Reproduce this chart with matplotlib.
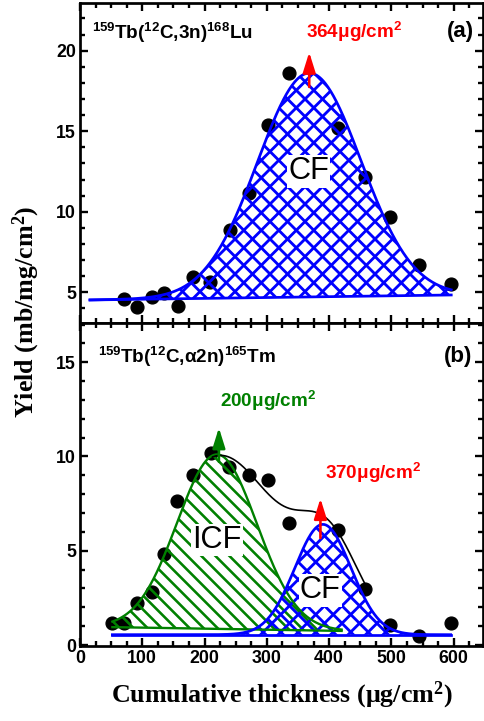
import numpy as np
import matplotlib
matplotlib.use("Agg")
import matplotlib.pyplot as plt
from matplotlib.ticker import MultipleLocator
from matplotlib.collections import LineCollection
from matplotlib.transforms import IdentityTransform

plt.rcParams['font.family'] = ['Liberation Sans', 'DejaVu Sans']
plt.rcParams['font.weight'] = 'bold'
plt.rcParams['mathtext.default'] = 'regular'

# ---- data ----
# (a) 159Tb(12C,3n)168Lu
thick_a = [71, 92, 115, 135, 158, 182, 209, 241, 271, 302, 335, 415, 457, 497, 545, 595]
yield_a = [4.58, 4.10, 4.69, 4.94, 4.17, 5.93, 5.66, 8.87, 11.19, 15.39, 18.60,
           15.19, 12.14, 9.66, 6.70, 5.50]
# CF gaussian fit: range, baseline (start, end), amplitude, centre, sigma
cf_a_range = (16, 596)
cf_a_base = (4.52, 4.83)
cf_a_amp, cf_a_c, cf_a_s = 13.9, 368, 83

# (b) 159Tb(12C,a2n)165Tm
thick_b = [52, 71, 92, 115, 135, 156, 182, 210, 239, 271, 302, 335, 415, 457, 498, 545, 595]
yield_b = [1.15, 1.15, 2.24, 2.83, 4.82, 7.65, 9.00, 10.16, 9.45, 9.00, 8.74, 6.48,
           6.09, 2.95, 1.06, 0.48, 1.15]
icf_range = (52, 420)
icf_base = (0.95, 0.75)
icf_amp, icf_c, icf_s = 9.25, 220, 64
cf_b_range = (52, 595)
cf_b_base = (0.55, 0.55)
cf_b_amp, cf_b_c, cf_b_s = 5.85, 390, 45
# total fit (two components)
tot_range = (213, 465)
tot_base = 0.55
tot_comp = [(9.5, 225, 95), (4.3, 400, 50)]


def gauss_fit(rng, base, comps):
    x = np.linspace(rng[0], rng[1], 400)
    b = base[0] + (base[1] - base[0]) * (x - rng[0]) / (rng[1] - rng[0])
    y = b.copy()
    for a, c, s in comps:
        y = y + a * np.exp(-(x - c) ** 2 / (2 * s ** 2))
    return x, b, y


def hatch_fill(ax, x, b, y, color, step, dirs, lw=2.2, z=3):
    # fill region between b and y with 45 degree lines, step in pixels
    poly = ax.fill_between(x, b, y, facecolor='none', lw=0, zorder=z)
    p = ax.transData.transform(np.column_stack([np.r_[x, x], np.r_[b, y]]))
    x0, y0 = p.min(axis=0) - 2
    x1, y1 = p.max(axis=0) + 2
    h = y1 - y0
    segs = []
    for d in dirs:
        for c in np.arange(x0 - h - step, x1 + step, step):
            if d == '/':
                segs.append([(c, y0), (c + h, y1)])
            else:
                segs.append([(c, y1), (c + h, y0)])
    lc = LineCollection(segs, colors=color, linewidths=lw, transform=IdentityTransform(), zorder=z)
    ax.add_collection(lc, autolim=False)
    lc.set_clip_path(poly.get_paths()[0], ax.transData)


dpi = 85
fig = plt.figure(figsize=(484 / dpi, 721 / dpi), dpi=dpi)
ax1 = fig.add_axes([80 / 484, 1 - 323 / 721, 403 / 484, 320 / 721])
ax2 = fig.add_axes([80 / 484, 1 - 646 / 721, 403 / 484, 323 / 721])

for ax in (ax1, ax2):
    ax.set_xlim(0, 647)
    ax.xaxis.set_major_locator(MultipleLocator(100))
    ax.xaxis.set_minor_locator(MultipleLocator(25))
    ax.yaxis.set_major_locator(MultipleLocator(5))
    ax.yaxis.set_minor_locator(MultipleLocator(1))
    ax.tick_params(which='both', direction='in', top=True, right=True, width=2)
    ax.tick_params(which='major', length=7, labelsize=15)
    ax.tick_params(which='minor', length=4)
    for sp in ax.spines.values():
        sp.set_linewidth(2.3)

ax1.set_ylim(3.09, 22.96)
ax2.set_ylim(-0.05, 17.08)
ax1.tick_params(labelbottom=False)

arrow = dict(arrowstyle='-|>,head_length=0.8,head_width=0.25', lw=2.2, mutation_scale=18)
box = dict(facecolor='white', edgecolor='none', pad=1)

# ---- panel (a) ----
ax1.plot(thick_a, yield_a, 'o', color='black', ms=11, zorder=2)
x, b, y = gauss_fit(cf_a_range, cf_a_base, [(cf_a_amp, cf_a_c, cf_a_s)])
hatch_fill(ax1, x, b, y, 'blue', 17.5, '/\\', lw=2.4)
ax1.plot(x, y, color='blue', lw=2.3, zorder=4)
ax1.plot(x, b, color='blue', lw=2.3, zorder=4)
ax1.annotate('', xy=(368, 20.05), xytext=(368, 17.6),
             arrowprops=dict(arrow, color='red'), zorder=6)
ax1.text(363, 21.15, r'364μg/cm$^2$', color='red', fontsize=16, va='center', ha='left')
ax1.text(19, 21.1, r'$^{159}$Tb($^{12}$C,3n)$^{168}$Lu', fontsize=16, va='center')
ax1.text(633, 21.2, '(a)', fontsize=19, ha='right', va='center')
ax1.text(367, 12.5, 'CF', fontsize=26, fontweight='normal', ha='center', va='center',
         bbox=box, zorder=5)

# ---- panel (b) ----
ax2.plot(thick_b, yield_b, 'o', color='black', ms=11, zorder=2)
x, b, y = gauss_fit(icf_range, icf_base, [(icf_amp, icf_c, icf_s)])
hatch_fill(ax2, x, b, y, 'green', 14.0, '\\', lw=2.2)
ax2.plot(x, y, color='green', lw=2.0, zorder=4)
ax2.plot(x, b, color='green', lw=2.0, zorder=4)
x, b, y = gauss_fit(cf_b_range, cf_b_base, [(cf_b_amp, cf_b_c, cf_b_s)])
hatch_fill(ax2, x, b, y, 'blue', 17.5, '/\\', lw=2.4, z=3.5)
ax2.plot(x, y, color='blue', lw=2.3, zorder=4)
ax2.plot(x, b, color='blue', lw=2.3, zorder=4)
x, b, y = gauss_fit(tot_range, (tot_base, tot_base), tot_comp)
ax2.plot(x, y, color='black', lw=1.4, zorder=4)

ax2.annotate('', xy=(223, 11.65), xytext=(223, 9.6),
             arrowprops=dict(arrow, color='green'), zorder=6)
ax2.annotate('', xy=(386, 7.9), xytext=(386, 5.55),
             arrowprops=dict(arrow, color='red'), zorder=6)
ax2.text(225, 12.95, r'200μg/cm$^2$', color='green', fontsize=16, va='center')
ax2.text(393, 9.15, r'370μg/cm$^2$', color='red', fontsize=16, va='center')
ax2.text(29, 15.3, r'$^{159}$Tb($^{12}$C,α2n)$^{165}$Tm', fontsize=16, va='center')
ax2.text(630, 15.3, '(b)', fontsize=19, ha='right', va='center')
ax2.text(220, 5.56, 'ICF', fontsize=26, fontweight='normal', ha='center', va='center',
         bbox=box, zorder=5)
ax2.text(386, 2.9, 'CF', fontsize=26, fontweight='normal', ha='center', va='center',
         bbox=box, zorder=5)

ax2.set_xlabel(r'Cumulative thickness (μg/cm$^2$)', family=['Liberation Serif', 'DejaVu Serif'],
               fontsize=22, fontweight='bold', labelpad=11)
fig.text(26 / 484, 1 - 312 / 721, r'Yield (mb/mg/cm$^2$)', family=['Liberation Serif', 'DejaVu Serif'],
         fontsize=22, fontweight='bold', rotation=90, ha='center', va='center')

fig.savefig('out.png', dpi=dpi)
